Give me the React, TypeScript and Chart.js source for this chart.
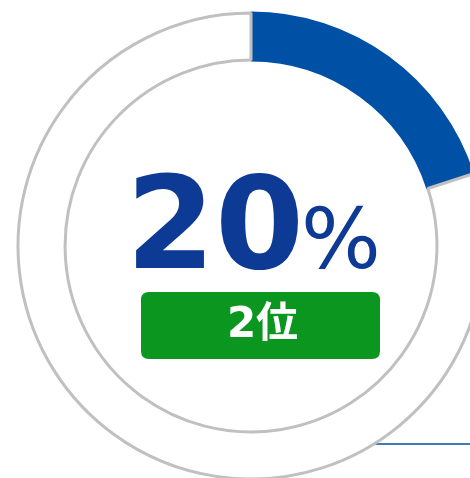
import React, { useEffect, useRef } from "react";
import { Chart, registerables } from "chart.js";

Chart.register(...registerables);

const labels = ["該当", "その他"];
const values = [20, 80];
const percentText = "20";
const rankText = "2位";

const BLUE = "#0051a5";
const GREY = "#c0c0c0";
const TEXT_BLUE = "#0c3a94";
const GREEN = "#0a961f";

const centerPlugin = {
  id: "centerText",
  beforeDatasetsDraw(chart: any) {
    const ctx = chart.ctx;
    const meta = chart.getDatasetMeta(0);
    const arc = meta.data[0];
    const cx = arc.x;
    const cy = arc.y;
    ctx.save();
    ctx.strokeStyle = BLUE;
    ctx.lineWidth = 1.5;
    ctx.beginPath();
    ctx.moveTo(cx, cy + 198);
    ctx.lineTo(chart.width, cy + 198);
    ctx.stroke();
    ctx.restore();
  },
  afterDraw(chart: any) {
    const ctx = chart.ctx;
    const meta = chart.getDatasetMeta(0);
    const arc = meta.data[0];
    const cx = arc.x;
    const cy = arc.y;
    ctx.save();
    // big number
    ctx.fillStyle = TEXT_BLUE;
    ctx.textBaseline = "alphabetic";
    ctx.textAlign = "left";
    ctx.font = "bold 128px 'DejaVu Sans'";
    const m1 = ctx.measureText(percentText);
    const numLeft = cx - 115;
    ctx.fillText(percentText, numLeft + m1.actualBoundingBoxLeft, cy + 22);
    ctx.font = "84px 'DejaVu Sans'";
    const m2 = ctx.measureText("%");
    ctx.fillText("%", cx + 54 + m2.actualBoundingBoxLeft, cy + 22);
    // green badge
    const bx = cx - 110, by = cy + 46, bw = 239, bh = 67, r = 8;
    ctx.fillStyle = GREEN;
    ctx.beginPath();
    ctx.moveTo(bx + r, by);
    ctx.lineTo(bx + bw - r, by);
    ctx.quadraticCurveTo(bx + bw, by, bx + bw, by + r);
    ctx.lineTo(bx + bw, by + bh - r);
    ctx.quadraticCurveTo(bx + bw, by + bh, bx + bw - r, by + bh);
    ctx.lineTo(bx + r, by + bh);
    ctx.quadraticCurveTo(bx, by + bh, bx, by + bh - r);
    ctx.lineTo(bx, by + r);
    ctx.quadraticCurveTo(bx, by, bx + r, by);
    ctx.closePath();
    ctx.fill();
    ctx.fillStyle = "#ffffff";
    ctx.font = "bold 42px 'DejaVu Sans', 'Noto Sans CJK JP'";
    ctx.textAlign = "center";
    ctx.textBaseline = "middle";
    ctx.fillText(rankText, bx + bw / 2 + 2, by + bh / 2 + 1);
    ctx.restore();
  },
};

export default function App() {
  const ref = useRef<HTMLCanvasElement | null>(null);
  useEffect(() => {
    if (!ref.current) return;
    const chart = new Chart(ref.current, {
      type: "doughnut",
      data: {
        labels,
        datasets: [
          {
            data: values,
            backgroundColor: [BLUE, "#ffffff"],
            borderColor: [BLUE, GREY],
            borderWidth: 3,
            hoverOffset: 0,
          },
        ],
      },
      options: {
        responsive: false,
        animation: false,
        radius: 233,
        cutout: "79.8%",
        layout: { padding: 0 },
        plugins: {
          legend: { display: false },
          tooltip: { enabled: false },
        },
        events: [],
      } as any,
      plugins: [centerPlugin],
    });
    return () => chart.destroy();
  }, []);
  return (
    <div
      style={{
        position: "absolute",
        left: 0,
        top: 0,
        width: 470,
        height: 478,
        overflow: "hidden",
        background: "#ffffff",
      }}
    >
      <canvas ref={ref} width={502} height={492} style={{ display: "block" }} />
    </div>
  );
}
